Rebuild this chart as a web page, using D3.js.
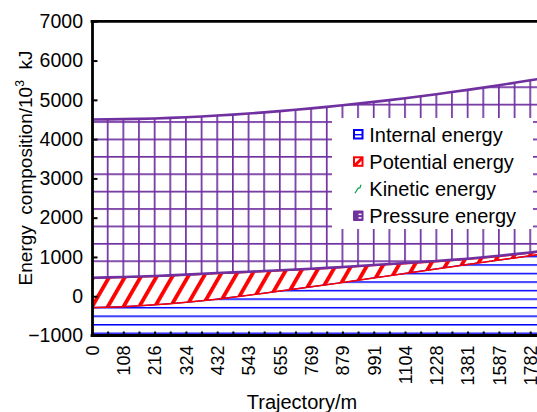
<!DOCTYPE html>
<html>
<head>
<meta charset="utf-8">
<script src="https://cdn.jsdelivr.net/npm/d3@7"></script>
<style>
  body { margin: 0; background: #fff; }
  text { font-family: "Liberation Sans", Arial, sans-serif; fill: #000; }
</style>
</head>
<body>
<svg id="chart" width="537" height="412"></svg>
<script>
// Trajectory stations (m); every other station carries a label
const trajectory = ["0","54","108","162","216","270","324","378","432","488","543","599","655","712","769","824",
                    "879","935","991","1048","1104","1166","1228","1305","1381","1484","1587","1685","1782","1880"];
const tickLabels = ["0","108","216","324","432","543","655","769","879","991","1104","1228","1381","1587","1782"];
const yTicks = [-1000, 0, 1000, 2000, 3000, 4000, 5000, 6000, 7000];

// Energy components along the trajectory (10^3 kJ), stacked in this order
const internalEnergy  = [-290,-280,-265,-245,-220,-190,-155,-118,-75,-25,25,78,132,186,240,295,
                         350,407,465,522,580,637,695,752,810,865,920,975,1030,1085];
const potentialEnergy = [750,750,744,736,724,710,693,676,653,619,587,551,515,480,446,413,
                         381,348,315,283,250,218,184,157,129,111,93,80,68,58];
const kineticEnergy   = [10,10,11,11,11,12,12,12,12,13,13,13,13,14,14,14,
                         14,15,15,15,15,15,16,16,16,16,17,17,17,17];
const pressureEnergy  = [4030,4023,4018,4013,4010,4008,4008,4008,4010,4018,4027,4040,4054,4068,4084,4100,
                         4117,4134,4153,4174,4197,4222,4249,4273,4299,4320,4342,4362,4383,4400];

const seriesNames = ["Internal energy", "Potential energy", "Kinetic energy", "Pressure energy"];

const blue = "#0000ff", red = "#ff0000", green = "#00a04a", purple = "#7030a0";

const svg = d3.select("#chart");
const plotLeft = 92, plotTop = 21.3, plotBottom = 335.5, step = 15.65;

const x = d3.scalePoint().domain(trajectory).range([plotLeft, plotLeft + (trajectory.length - 1) * step]);
const y = d3.scaleLinear().domain([-1000, 7000]).range([plotBottom, plotTop]);

// Hatch patterns
const defs = svg.append("defs");
const pBlue = defs.append("pattern").attr("id", "hBlue").attr("patternUnits", "userSpaceOnUse")
  .attr("x", 0).attr("y", 332.55).attr("width", 10).attr("height", 8.54);
pBlue.append("rect").attr("width", 10).attr("height", 1.5).attr("fill", blue);

const pRed = defs.append("pattern").attr("id", "hRed").attr("patternUnits", "userSpaceOnUse")
  .attr("width", 13.6).attr("height", 20).attr("patternTransform", "rotate(30)");
pRed.append("rect").attr("width", 3.8).attr("height", 20).attr("fill", red);

const pPurple = defs.append("pattern").attr("id", "hPurple").attr("patternUnits", "userSpaceOnUse")
  .attr("x", plotLeft - 0.85).attr("y", 122 - 0.85).attr("width", step).attr("height", 17.4);
pPurple.append("rect").attr("width", step).attr("height", 1.7).attr("fill", purple);
pPurple.append("rect").attr("width", 1.7).attr("height", 17.4).attr("fill", purple);

// Stack the components
const rows = trajectory.map((t, i) => ({
  t,
  "Internal energy": internalEnergy[i],
  "Potential energy": potentialEnergy[i],
  "Kinetic energy": kineticEnergy[i],
  "Pressure energy": pressureEnergy[i]
}));
const stacked = d3.stack().keys(seriesNames)(rows);

const areaFrom = (floor) => d3.area()
  .x(d => x(d.data.t))
  .y0(d => floor ? y(-1000) : y(d[0]))
  .y1(d => y(d[1]));
const lineAt = key => d3.line().x(d => x(d.data.t)).y(d => y(d[key]));

const plot = svg.append("g");
plot.append("path").datum(stacked[0]).attr("d", areaFrom(true)).attr("fill", "url(#hBlue)");
plot.append("path").datum(stacked[1]).attr("d", areaFrom(false)).attr("fill", "url(#hRed)");
plot.append("path").datum(stacked[2]).attr("d", areaFrom(false)).attr("fill", green);
plot.append("path").datum(stacked[3]).attr("d", areaFrom(false)).attr("fill", "url(#hPurple)");

// Boundary lines
plot.append("path").datum(stacked[0]).attr("d", lineAt(1)).attr("fill", "none").attr("stroke", blue).attr("stroke-width", 1.2);
plot.append("path").datum(stacked[1]).attr("d", lineAt(0)).attr("fill", "none").attr("stroke", red).attr("stroke-width", 1.5);
plot.append("path").datum(stacked[1]).attr("d", lineAt(1)).attr("fill", "none").attr("stroke", red).attr("stroke-width", 1.5);
plot.append("path").datum(stacked[3]).attr("d", lineAt(0)).attr("fill", "none").attr("stroke", purple).attr("stroke-width", 2.6);
plot.append("path").datum(stacked[3]).attr("d", lineAt(1)).attr("fill", "none").attr("stroke", purple).attr("stroke-width", 2.6);

// Legend
const lg = svg.append("g");
lg.append("rect").attr("x", 332).attr("y", 118).attr("width", 201).attr("height", 111).attr("fill", "#fff");
const rowY = [141.7, 169, 196, 223.3];
seriesNames.forEach((name, i) => {
  const g = lg.append("g").attr("transform", `translate(353,${rowY[i] - 12.7})`);
  if (i === 0) {
    g.append("rect").attr("x", 1).attr("y", 1).attr("width", 8.5).attr("height", 8.5)
      .attr("fill", "#fff").attr("stroke", blue).attr("stroke-width", 2);
    g.append("rect").attr("x", 1).attr("y", 5).attr("width", 8.5).attr("height", 1.4).attr("fill", blue);
  } else if (i === 1) {
    g.append("rect").attr("x", 1).attr("y", 1).attr("width", 8.5).attr("height", 8.5)
      .attr("fill", "#fff").attr("stroke", red).attr("stroke-width", 2);
    g.append("path").attr("d", "M2,9 L9,2").attr("stroke", red).attr("stroke-width", 3);
  } else if (i === 2) {
    g.append("path").attr("d", "M2,10 L5,5 L7,4.5 L8,1.5").attr("fill", "none")
      .attr("stroke", green).attr("stroke-width", 1.2);
  } else {
    g.append("rect").attr("x", 0).attr("y", 0).attr("width", 10.5).attr("height", 10.5)
      .attr("fill", purple).attr("rx", 1);
    g.append("rect").attr("x", 5.5).attr("y", 3).attr("width", 3).attr("height", 1.5).attr("fill", "#fff");
    g.append("rect").attr("x", 5.5).attr("y", 6.5).attr("width", 3).attr("height", 1.5).attr("fill", "#fff");
  }
  lg.append("text").attr("x", 369.3).attr("y", rowY[i]).attr("font-size", 20).text(name);
});

// Axes
const yAxis = d3.axisLeft(y).tickValues(yTicks).tickSizeInner(-5.5).tickSizeOuter(0).tickPadding(9)
  .tickFormat(d => d < 0 ? "\u2212" + Math.abs(d) : String(d));
const gy = svg.append("g").attr("transform", `translate(${plotLeft},0)`).call(yAxis);
gy.select(".domain").attr("stroke-width", 2.8);
gy.selectAll(".tick line").attr("stroke-width", 2);
gy.selectAll(".tick text").attr("font-size", 19.5).attr("font-family", "Liberation Sans, Arial, sans-serif").attr("fill", "#000");

const xAxis = d3.axisBottom(x).tickSizeInner(-4).tickSizeOuter(0)
  .tickFormat(d => tickLabels.includes(d) ? d : "");
const gx = svg.append("g").attr("transform", `translate(0,${plotBottom})`).call(xAxis);
gx.select(".domain").attr("stroke-width", 2.8).attr("d", `M${plotLeft - 1.4},0H${plotLeft + (trajectory.length - 1) * step + 10}`);
gx.selectAll(".tick line").attr("stroke-width", 2);
gx.selectAll(".tick text")
  .attr("transform", "rotate(-90)")
  .attr("text-anchor", "end")
  .attr("x", -10).attr("y", 0).attr("dy", "0.35em")
  .attr("font-size", 18).attr("font-family", "Liberation Sans, Arial, sans-serif").attr("fill", "#000");

// Top frame line
svg.append("line").attr("x1", plotLeft - 1.4).attr("x2", 560).attr("y1", plotTop).attr("y2", plotTop)
  .attr("stroke", "#000").attr("stroke-width", 2.8);

// Axis titles
svg.append("text").attr("x", 302).attr("y", 409).attr("text-anchor", "middle").attr("font-size", 20)
  .text("Trajectory/m");
const yt = svg.append("text").attr("transform", "translate(32,168) rotate(-90)")
  .attr("text-anchor", "middle").attr("font-size", 19).style("white-space", "pre");
yt.append("tspan").text("Energy  composition/10");
yt.append("tspan").attr("font-size", 12).attr("dy", -8).text("3");
yt.append("tspan").attr("dy", 8).text("  kJ");
</script>
</body>
</html>
